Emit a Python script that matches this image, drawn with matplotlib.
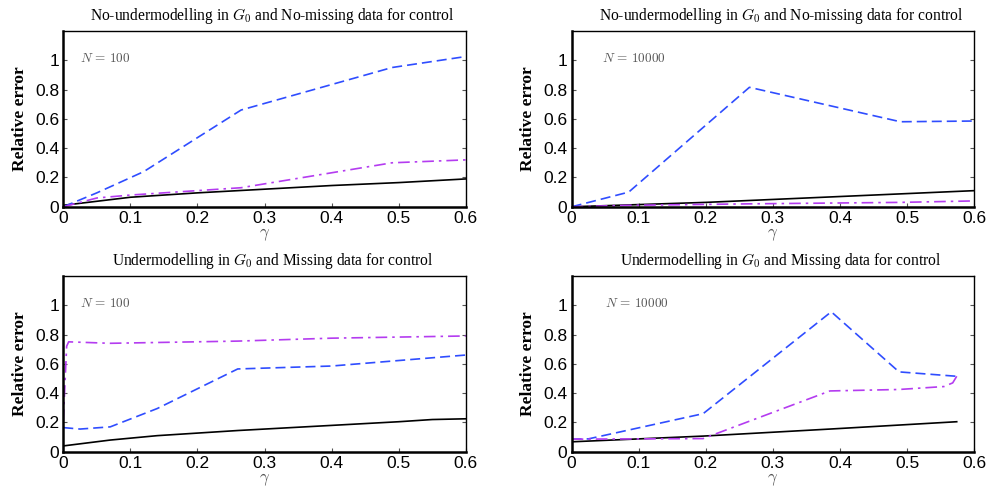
import matplotlib
matplotlib.use("Agg")
import matplotlib.pyplot as plt

plt.rcParams["mathtext.fontset"] = "cm"

# panel titles and sample sizes
titles = [r"No-undermodelling in $G_0$ and No-missing data for control",
          r"No-undermodelling in $G_0$ and No-missing data for control",
          r"Undermodelling in $G_0$ and Missing data for control",
          r"Undermodelling in $G_0$ and Missing data for control"]
n_labels = [r"$N\,=\,100$", r"$N\,=\,10000$", r"$N\,=\,100$", r"$N\,=\,10000$"]
n_label_x = [0.025, 0.045, 0.025, 0.05]

# (a) no-undermodelling, N=100
a_black_x = [0, 0.1, 0.2, 0.3, 0.4, 0.5, 0.6]
a_black_y = [0.01, 0.065, 0.095, 0.12, 0.145, 0.165, 0.19]
a_blue_x = [0, 0.05, 0.12, 0.265, 0.49, 0.6]
a_blue_y = [0.0, 0.095, 0.24, 0.66, 0.95, 1.025]
a_mag_x = [0, 0.05, 0.1, 0.265, 0.49, 0.6]
a_mag_y = [0.0, 0.06, 0.08, 0.13, 0.30, 0.32]

# (b) no-undermodelling, N=10000
b_black_x = [0, 0.2, 0.4, 0.6]
b_black_y = [0.0, 0.03, 0.07, 0.11]
b_blue_x = [0, 0.085, 0.265, 0.49, 0.6]
b_blue_y = [0.0, 0.10, 0.815, 0.58, 0.585]
b_mag_x = [0, 0.085, 0.265, 0.49, 0.6]
b_mag_y = [0.0, 0.01, 0.02, 0.03, 0.04]

# (c) undermodelling, N=100
c_black_x = [0, 0.07, 0.14, 0.26, 0.4, 0.5, 0.55, 0.6]
c_black_y = [0.04, 0.08, 0.11, 0.145, 0.18, 0.205, 0.22, 0.225]
c_blue_x = [0, 0.025, 0.07, 0.14, 0.26, 0.4, 0.6]
c_blue_y = [0.165, 0.155, 0.17, 0.295, 0.565, 0.585, 0.66]
c_mag_x = [0, 0.005, 0.008, 0.07, 0.26, 0.4, 0.6]
c_mag_y = [0.21, 0.72, 0.75, 0.74, 0.755, 0.775, 0.79]

# (d) undermodelling, N=10000
d_black_x = [0, 0.196, 0.385, 0.574]
d_black_y = [0.068, 0.107, 0.155, 0.205]
d_blue_x = [0, 0.025, 0.196, 0.387, 0.488, 0.574]
d_blue_y = [0.086, 0.088, 0.26, 0.955, 0.545, 0.515]
d_mag_x = [0, 0.196, 0.385, 0.488, 0.555, 0.568, 0.574]
d_mag_y = [0.086, 0.09, 0.415, 0.425, 0.445, 0.47, 0.515]

panels = [(a_black_x, a_black_y, a_blue_x, a_blue_y, a_mag_x, a_mag_y),
          (b_black_x, b_black_y, b_blue_x, b_blue_y, b_mag_x, b_mag_y),
          (c_black_x, c_black_y, c_blue_x, c_blue_y, c_mag_x, c_mag_y),
          (d_black_x, d_black_y, d_blue_x, d_blue_y, d_mag_x, d_mag_y)]

BLUE, MAG = "#2f4dff", "#b43cf0"
pos = [(0.064, 0.578), (0.578, 0.578), (0.064, 0.078), (0.578, 0.078)]

fig = plt.figure(figsize=(9.89, 4.9), dpi=100)
for i, (bx, by, ux, uy, mx, my) in enumerate(panels):
    ax = fig.add_axes([pos[i][0], pos[i][1], 0.407, 0.359])
    ax.plot(bx, by, "-", color="black", lw=1.2)
    ax.plot(ux, uy, color=BLUE, lw=1.2, dashes=(6, 3))
    ax.plot(mx, my, color=MAG, lw=1.2, dashes=(7, 3, 1.5, 3))
    ax.set_xlim(0, 0.6); ax.set_ylim(0, 1.2)
    ax.set_xticks([0, 0.1, 0.2, 0.3, 0.4, 0.5, 0.6])
    ax.set_xticklabels(["0", "0.1", "0.2", "0.3", "0.4", "0.5", "0.6"])
    ax.set_yticks([0, 0.2, 0.4, 0.6, 0.8, 1.0])
    ax.set_yticklabels(["0", "0.2", "0.4", "0.6", "0.8", "1"])
    ax.tick_params(direction="in", right=True, top=False, length=3, width=0.8,
                   color="#555555", labelsize=12.5, pad=3)
    for lab in ax.get_xticklabels() + ax.get_yticklabels():
        lab.set_family("Liberation Sans")
    ax.spines["left"].set_linewidth(1.8)
    ax.spines["bottom"].set_linewidth(1.8)
    ax.spines["right"].set_linewidth(1.0)
    ax.spines["top"].set_linewidth(1.0)
    ax.set_title(titles[i], family="Liberation Serif", fontsize=11.2, pad=8, x=0.52)
    ax.set_ylabel("Relative error", family="Liberation Serif", fontweight="bold", fontsize=12.5, labelpad=5)
    ax.set_xlabel(r"$\gamma$", fontsize=12, color="#555555", labelpad=-1)
    ax.text(n_label_x[i], 1.01, n_labels[i], fontsize=9.5, color="#555555", va="center")

fig.savefig("out.png", dpi=100)
